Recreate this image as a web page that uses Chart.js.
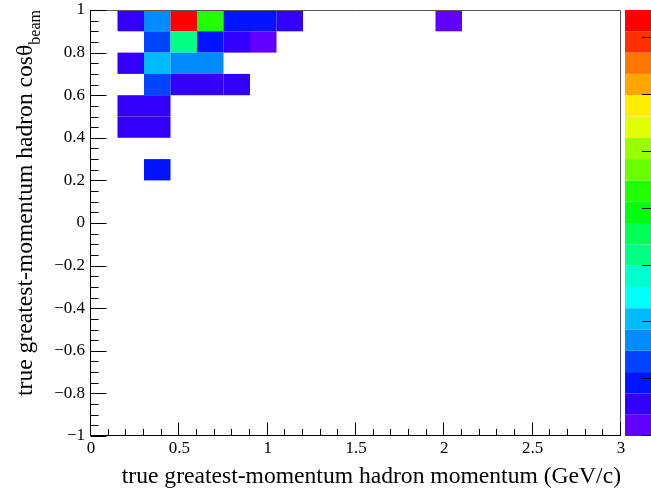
<!DOCTYPE html>
<html><head><meta charset="utf-8">
<script src="https://cdn.jsdelivr.net/npm/chart.js@4"></script>
<style>html,body{margin:0;padding:0;background:#fff;}canvas{display:block;}</style>
</head><body>
<canvas id="c" width="651" height="491" style="width:651px;height:491px"></canvas>
<script>
// ---- data: one entry per filled bin (lower bin edges + content) ----
const momentumLow = [0.15,0.30,0.45,0.60,0.75,0.90,1.05,1.95,
                     0.30,0.45,0.60,0.75,0.90,
                     0.15,0.30,0.45,0.60,
                     0.30,0.45,0.60,0.75,
                     0.15,0.30,
                     0.15,0.30,
                     0.30];
const cosThetaLow = [0.9,0.9,0.9,0.9,0.9,0.9,0.9,0.9,
                     0.8,0.8,0.8,0.8,0.8,
                     0.7,0.7,0.7,0.7,
                     0.6,0.6,0.6,0.6,
                     0.5,0.5,
                     0.4,0.4,
                     0.2];
const binContent = [1.1,3.4,14.8,8.6,1.9,2.0,1.2,0.5,
                    2.6,6.4,1.8,1.3,0.6,
                    1.0,4.1,3.3,3.5,
                    2.4,1.2,1.1,1.0,
                    1.3,1.2,
                    1.1,1.4,
                    2.0];
const momentumBinWidth = 0.15;
const cosThetaBinWidth = 0.1;
const zMin = 0, zMax = 15;
const zTicks = [0,2,4,6,8,10,12,14];
const xTitle = "true greatest-momentum hadron momentum (GeV/c)";
const yTitleMain = "true greatest-momentum hadron cos\u03B8";
const yTitleSub = "beam";

// ROOT "pretty" palette, 20 contour levels (violet -> red)
const palette = ['#6200ff','#3300ff','#0014ff','#0044ff','#008bff','#00bbff','#00fffc','#00ffcc',
                 '#00ff85','#00ff55','#00ff0e','#22ff00','#69ff00','#99ff00','#e0ff00','#ffee00',
                 '#ffa700','#ff7700','#ff3000','#ff0000'];

const FONT = "'Liberation Serif', 'Times New Roman', serif";
Chart.defaults.font.family = FONT;
Chart.defaults.color = '#000';

const cells = momentumLow.map((p,i)=>({x:p+momentumBinWidth/2, y:cosThetaLow[i]+cosThetaBinWidth/2, v:binContent[i]}));

function fmt(v){ const r = Math.round(v*10)/10; return r < 0 ? '\u2212' + Math.abs(r) : String(Math.abs(r)); }

const bgPlugin = {
  id:'bg',
  beforeDraw(chart){ const c=chart.ctx; c.save(); c.fillStyle='#fff'; c.fillRect(0,0,chart.width,chart.height); c.restore(); }
};

const heatPlugin = {
  id:'heat',
  beforeDatasetsDraw(chart){
    const c = chart.ctx, xs = chart.scales.x, ys = chart.scales.y;
    c.save();
    momentumLow.forEach((p,i)=>{
      const x0 = xs.getPixelForValue(p), x1 = xs.getPixelForValue(p+momentumBinWidth);
      const y0 = ys.getPixelForValue(cosThetaLow[i]+cosThetaBinWidth), y1 = ys.getPixelForValue(cosThetaLow[i]);
      const lvl = Math.max(0, Math.min(palette.length-1, Math.floor((binContent[i]-zMin)/(zMax-zMin)*palette.length)));
      c.fillStyle = palette[lvl];
      c.fillRect(x0, y0, x1-x0, y1-y0);
    });
    c.restore();
  }
};

const framePlugin = {
  id:'frame',
  afterDatasetsDraw(chart){
    const c = chart.ctx, a = chart.chartArea, xs = chart.scales.x, ys = chart.scales.y;
    c.save();
    c.lineWidth = 1;
    c.strokeStyle = '#555';
    c.beginPath();
    c.moveTo(a.left-0.5, a.top+0.5); c.lineTo(a.right-0.5, a.top+0.5); c.lineTo(a.right-0.5, a.bottom-0.5);
    c.stroke();
    c.strokeStyle = '#000';
    c.beginPath();
    c.moveTo(a.left-0.5, a.top); c.lineTo(a.left-0.5, a.bottom-0.5); c.lineTo(a.right, a.bottom-0.5);
    c.stroke();
    c.beginPath();
    for (let i=0;i<=30;i++){
      const px = Math.round(xs.getPixelForValue(i/10)) - 0.5;
      const len = (i%5===0) ? 13 : 6.5;
      c.moveTo(px, a.bottom-0.5); c.lineTo(px, a.bottom-0.5-len);
    }
    for (let j=0;j<=40;j++){
      const py = Math.round(ys.getPixelForValue(-1 + j*0.05)) + 0.5;
      const len = (j%4===0) ? 16 : 8;
      c.moveTo(a.left-0.5, py); c.lineTo(a.left-0.5+len, py);
    }
    c.stroke();
    c.restore();
  },
  afterDraw(chart){
    const c = chart.ctx, a = chart.chartArea;
    c.save();
    const H = a.bottom - a.top, n = palette.length, bx = 625;
    for (let k=0;k<n;k++){
      c.fillStyle = palette[k];
      const yt = a.bottom - (k+1)*H/n, yb = a.bottom - k*H/n;
      c.fillRect(bx, yt, chart.width - bx + 10, yb-yt);
    }
    c.strokeStyle = '#000'; c.lineWidth = 1; c.beginPath();
    zTicks.forEach(z=>{
      const y = Math.round(a.bottom - (z-zMin)/(zMax-zMin)*H) - 0.5;
      c.moveTo(642, y); c.lineTo(chart.width, y);
    });
    c.stroke();
    c.fillStyle = '#000';
    c.font = `23.6px ${FONT}`;
    c.textAlign = 'right'; c.textBaseline = 'alphabetic';
    c.fillText(xTitle, a.right, 483);
    const mainFont = `23.6px ${FONT}`, subFont = `16px ${FONT}`;
    c.font = mainFont; const mw = c.measureText(yTitleMain).width;
    c.font = subFont; const sw = c.measureText(yTitleSub).width;
    c.translate(32, a.top + mw + sw);
    c.rotate(-Math.PI/2);
    c.textAlign = 'left';
    c.font = mainFont; c.fillText(yTitleMain, 0, 0);
    c.font = subFont; c.fillText(yTitleSub, mw, 8);
    c.restore();
  }
};

new Chart(document.getElementById('c'), {
  type:'scatter',
  data:{ datasets:[{ data:cells, pointRadius:0, pointHoverRadius:0, showLine:false }] },
  options:{
    responsive:false, animation:false, devicePixelRatio:1,
    layout:{ padding:{ left:0, right:30, top:10, bottom:0 } },
    plugins:{ legend:{display:false}, tooltip:{enabled:false}, title:{display:false} },
    scales:{
      x:{ type:'linear', min:0, max:3,
          grid:{display:false, drawTicks:false}, border:{display:false},
          ticks:{ stepSize:0.5, autoSkip:false, maxRotation:0, padding:2, color:'#000',
                  font:{family:FONT, size:17}, callback:fmt },
          afterFit(s){ s.height = 55; s.paddingLeft = 0; s.paddingRight = 0; } },
      y:{ type:'linear', min:-1, max:1,
          grid:{display:false, drawTicks:false}, border:{display:false},
          ticks:{ stepSize:0.2, autoSkip:false, padding:6, color:'#000',
                  font:{family:FONT, size:17}, callback:fmt },
          afterFit(s){ s.width = 91; s.paddingTop = 0; s.paddingBottom = 0; } }
    }
  },
  plugins:[bgPlugin, heatPlugin, framePlugin]
});
</script>
</body></html>
